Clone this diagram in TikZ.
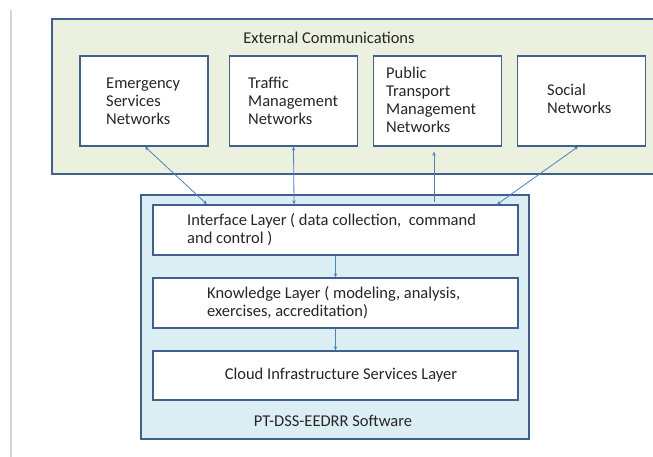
\documentclass[tikz,border=0pt]{standalone}
\usepackage{fontspec}
\setmainfont{Carlito}
\usetikzlibrary{arrows.meta}
\definecolor{bordc}{HTML}{41618C}
\definecolor{greenf}{HTML}{EBF1DE}
\definecolor{bluef}{HTML}{DBEEF4}
\definecolor{linkc}{HTML}{4F81BD}
\definecolor{txtc}{HTML}{262626}
\definecolor{greyl}{HTML}{D4D4D4}
\newcommand{\fsz}{\fontsize{16.5}{18}\selectfont}
\tikzset{
  netbox/.style={draw=bordc, line width=1.3pt, fill=white, minimum width=128pt, minimum height=90pt, inner sep=0pt},
  layerbox/.style={draw=bordc, line width=1.3pt, fill=white, minimum width=365pt, minimum height=50pt, inner sep=0pt},
  groupbox/.style={draw=bordc, line width=1.3pt, inner sep=0pt},
  txt/.style={font=\fsz, text=txtc, inner sep=0pt, align=left},
  link/.style={draw=linkc, line width=0.8pt},
  tipm/.style={-{Stealth[length=4pt,width=3.5pt]}},
  tipb/.style={{Stealth[length=4pt,width=3.5pt]}-{Stealth[length=4pt,width=3.5pt]}}
}
\begin{document}
\begin{tikzpicture}[x=1pt,y=-1pt]
\clip (0,0) rectangle (653,457);
\fill[white] (0,0) rectangle (653,457);
\draw[greyl, line width=1.5pt] (11,10) -- (11,457);
% external communications group
\node[groupbox, fill=greenf, minimum width=618pt, minimum height=155pt] (ext) at (361,96.5) {};
\node[txt] (extl) at (329,38) {External Communications};
\node[netbox] (b1) at (144,101) {};
\node[netbox] (b2) at (293.5,101) {};
\node[netbox] (b3) at (437.5,101) {};
\node[netbox] (b4) at (581.5,101) {};
\node[txt, anchor=west] (t1) at (106,101) {Emergency\\Services\\Networks};
\node[txt, anchor=west] (t2) at (248,101) {Traffic\\Management\\Networks};
\node[txt, anchor=west] (t3) at (386,100) {Public\\Transport\\Management\\Networks};
\node[txt, anchor=west] (t4) at (547,99) {Social\\Networks};
% software group
\node[groupbox, fill=bluef, minimum width=388pt, minimum height=244pt] (sw) at (335,317) {};
\node[layerbox] (il) at (335.5,230) {};
\node[layerbox] (kl) at (335.5,303) {};
\node[layerbox, minimum height=49pt] (cl) at (335.5,375.5) {};
\node[txt, anchor=west] (ilt) at (187,230) {Interface Layer ( data collection,~ command\\and control )};
\node[txt, anchor=west] (klt) at (207,303) {Knowledge Layer ( modeling, analysis,\\exercises, accreditation)};
\node[txt] (clt) at (341,375.5) {Cloud Infrastructure Services Layer};
\node[txt] (swl) at (333,421) {PT-DSS-EEDRR Software};
% connectors
\draw[link, tipb] ([xshift=1pt]b1.south) -- ([xshift=-128.5pt]il.north);
\draw[link, tipb] (b2.south) -- ([xshift=-41.5pt]il.north);
\draw[link, tipm] ([xshift=98.5pt, yshift=2pt]il.north) -- ([xshift=-3.5pt, yshift=-5pt]b3.south);
\draw[link, tipb] ([xshift=-3.5pt]b4.south) -- ([xshift=161.5pt]il.north);
\draw[link, tipm] (il.south) -- (kl.north);
\draw[link, tipm] (kl.south) -- (cl.north);
\end{tikzpicture}
\end{document}
